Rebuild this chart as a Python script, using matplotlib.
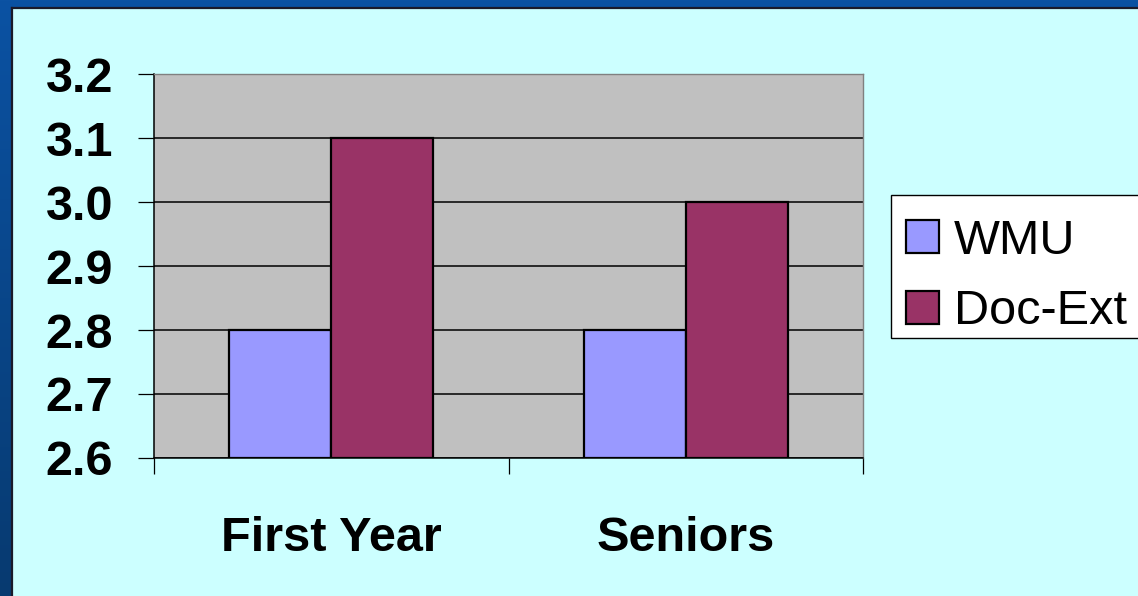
import numpy as np
import matplotlib.pyplot as plt
from matplotlib.patches import Rectangle
from matplotlib.colors import LinearSegmentedColormap

plt.rcParams['font.family'] = ['Liberation Sans', 'DejaVu Sans']

categories = ['First Year', 'Seniors']
series_names = ['WMU', 'Doc-Ext']
wmu = [2.8, 2.8]
doc_ext = [3.1, 3.0]
yticks = [2.6, 2.7, 2.8, 2.9, 3.0, 3.1, 3.2]

W, H = 1138, 596
fig = plt.figure(figsize=(W / 100, H / 100), dpi=100, facecolor='#CCFFFF')

# blue slide frame along top and left, darker towards the bottom
bg = fig.add_axes([0, 0, 1, 1], zorder=-10)
grad = np.linspace(0, 1, 256).reshape(-1, 1)
frame_cmap = LinearSegmentedColormap.from_list('frame', ['#0B52A3', '#073A70'])
bg.imshow(grad, cmap=frame_cmap, aspect='auto', extent=[0, 1, 0, 1], origin='upper')
bg.add_patch(Rectangle((12 / W, 0), 1, 1 - 8 / H, facecolor='#CCFFFF',
                       edgecolor='none', transform=bg.transAxes))
bg.plot([12 / W, 12 / W], [0, 1 - 8 / H], color='#1A1A2A', lw=1.6, transform=bg.transAxes)
bg.plot([12 / W, 1], [1 - 8 / H, 1 - 8 / H], color='#1A1A2A', lw=1.6, transform=bg.transAxes)
bg.set_xlim(0, 1)
bg.set_ylim(0, 1)
bg.axis('off')

ax = fig.add_axes([154 / W, (H - 458) / H, (863 - 154) / W, (458 - 74) / H])
ax.set_facecolor('#C0C0C0')

x = np.arange(len(categories))
bw = 0.288
ax.bar(x - bw / 2, np.array(wmu) - 2.6, bw, bottom=2.6, color='#9999FF',
       edgecolor='black', lw=1.6, label=series_names[0], zorder=3)
ax.bar(x + bw / 2, np.array(doc_ext) - 2.6, bw, bottom=2.6, color='#993366',
       edgecolor='black', lw=1.6, label=series_names[1], zorder=3)

ax.set_xlim(-0.5, 1.5)
ax.set_ylim(2.6, 3.2)
ax.set_yticks(yticks)
ax.set_yticklabels(['%.1f' % v for v in yticks], fontsize=35, fontweight='bold')
ax.set_xticks([-0.5, 0.5, 1.5], minor=False)
ax.set_xticklabels([])
ax.set_xticks(x, minor=True)
ax.set_xticklabels(categories, minor=True, fontsize=35, fontweight='bold')
ax.tick_params(axis='x', which='major', direction='out', length=11.5, width=0.9, color='black')
ax.tick_params(axis='x', which='minor', length=0, pad=42)
ax.tick_params(axis='y', direction='out', length=11.5, width=0.9, pad=18)
ax.grid(axis='y', color='black', lw=1.1, zorder=1)

for s in ['top', 'right']:
    ax.spines[s].set_color('#808080')
    ax.spines[s].set_linewidth(1.0)
ax.spines['left'].set_linewidth(1.1)
ax.spines['bottom'].set_linewidth(1.1)

# legend box runs off the right edge of the figure
fig.add_artist(Rectangle((891 / W, 1 - 338 / H), 260 / W, 143 / H, facecolor='white',
                         edgecolor='black', lw=1.0, transform=fig.transFigure, zorder=4))
leg = fig.legend(loc='upper left', bbox_to_anchor=(891 / W, 1 - 204 / H),
                 fontsize=35, frameon=False, borderaxespad=0,
                 handlelength=0.68, handleheight=0.68, handletextpad=0.31,
                 labelspacing=0.53, borderpad=0.3)
for h in leg.legend_handles:
    h.set_linewidth(1.6)

fig.savefig('out.png', dpi=100, facecolor=fig.get_facecolor())
